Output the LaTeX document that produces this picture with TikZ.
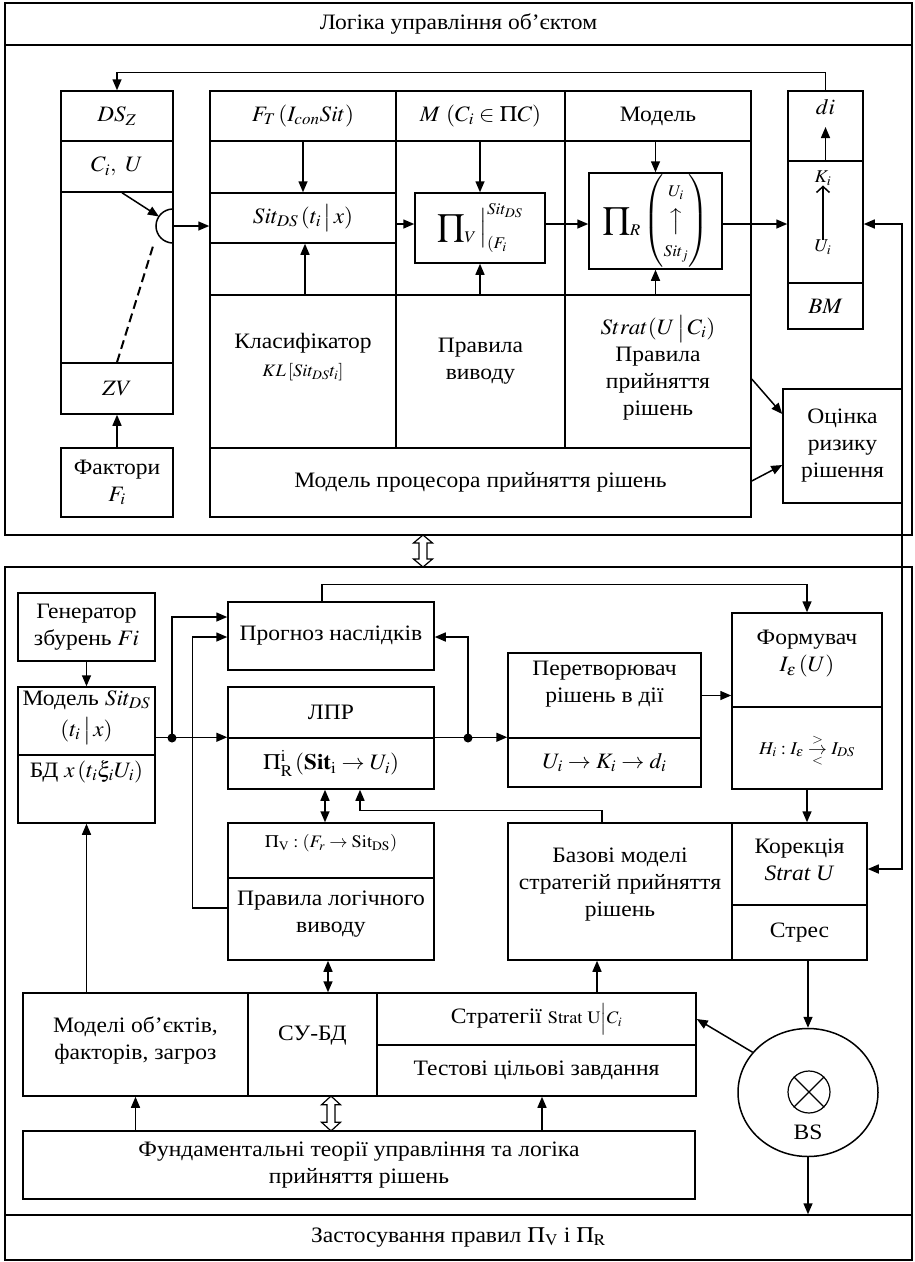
\documentclass[tikz,border=0pt]{standalone}
\usepackage{mathptmx}
\usepackage[no-math]{fontspec}
\setmainfont{Liberation Serif}[FakeStretch=1.07]
\usepackage{graphicx}
\usetikzlibrary{arrows.meta,calc,shapes.geometric}
% math set slightly wider to sit with the stretched text face
\newcommand\mx[1]{\scalebox{1.05}[1]{$#1$}}
\tikzset{
  cell/.style={draw,line width=1.5pt,rectangle,inner sep=0pt,align=center},
  txt/.style={inner sep=0pt,align=center},
  ln/.style={line width=1.5pt},
  arr/.style={ln,-{Triangle[length=11pt,width=9pt]}},
  darr/.style={ln,{Triangle[length=11pt,width=9pt]}-{Triangle[length=11pt,width=9pt]}},
  jdot/.style={circle,fill,inner sep=0pt,minimum size=9pt},
  smalltxt/.style={font=\fontsize{17.5}{20}\selectfont},
  hollowdbl/.pic={\draw[line width=1.2pt,fill=white] (0,-16)--(9.5,-8)--(4,-8)--(4,8)--(9.5,8)--(0,16)--(-9.5,8)--(-4,8)--(-4,-8)--(-9.5,-8)--cycle;}
}
\begin{document}
\begin{tikzpicture}[x=1pt,y=-1pt,font=\fontsize{22}{27}\selectfont]
\useasboundingbox (0,0) rectangle (914,1262);

% ---------- outer frames ----------
\node[cell,minimum width=907pt,minimum height=42pt] (ttl) at (458.5,24) {Логіка управління об’єктом};
\node[cell,minimum width=907pt,minimum height=490pt] (topfr) at (458.5,290) {};
\node[cell,minimum width=907pt,minimum height=648pt] (botfr) at (458.5,891) {};
\node[cell,minimum width=907pt,minimum height=45pt] (zast) at (458.5,1237.5) {Застосування правил \mx{\Pi_{\mathrm V}} і \mx{\Pi_{\mathrm R}}};

% ---------- upper part: situation column ----------
\node[cell,minimum width=112pt,minimum height=50pt] (dsz) at (117,116) {\mx{DS_Z}};
\node[cell,minimum width=112pt,minimum height=51pt] (ciu) at (117,166.5) {\mx{C_i,\ U}};
\node[cell,minimum width=112pt,minimum height=171pt] (dsm) at (117,277.5) {};
\node[cell,minimum width=112pt,minimum height=51pt] (zv) at (117,388.5) {\mx{ZV}};
\node[cell,minimum width=112pt,minimum height=69pt] (fac) at (117,482.5) {Фактори\\\mx{F_i}};

\coordinate (sc) at (173,226);
\coordinate (semitop) at (158.9,216.5);
\coordinate (semibot) at (154,243);
\draw[ln] (173,209) arc[start angle=270,end angle=90,radius=17];

% ---------- decision processor model ----------
\node[cell,minimum width=186pt,minimum height=50pt] (h1) at (303,116) {\mx{F_T\left(I_{con}Sit\right)}};
\node[cell,minimum width=169pt,minimum height=50pt] (h2) at (480.5,116) {\mx{M\ (C_i\in\Pi C)}};
\node[cell,minimum width=186pt,minimum height=50pt] (h3) at (658,116) {Модель};
\node[cell,minimum width=186pt,minimum height=154pt] (m1) at (303,218) {};
\node[cell,minimum width=169pt,minimum height=154pt] (m2) at (480.5,218) {};
\node[cell,minimum width=186pt,minimum height=154pt] (m3) at (658,218) {};
\node[cell,minimum width=186pt,minimum height=50pt] (sit) at (303,218) {\mx{Sit_{DS}\,(t_i\,\big|\,x)}};
\node[cell,minimum width=186pt,minimum height=153pt] (l1) at (303,371.5) {};
\node[cell,minimum width=169pt,minimum height=153pt] (l2) at (480.5,371.5) {};
\node[cell,minimum width=186pt,minimum height=153pt] (l3) at (658,371.5) {};
\node[cell,minimum width=541pt,minimum height=69pt] (proc) at (480.5,482.5) {Модель процесора прийняття рішень};

\node[txt] (kl1) at (303,343) {Класифікатор};
\node[txt,smalltxt] (kl2) at (303,372) {\mx{KL\left[Sit_{DS}t_i\right]}};
\node[txt] (pvt) at (480.5,361.5) {Правила\\виводу};
\node[txt] (prt) at (658,368) {\mx{Strat(U\,\big|\,C_i)}\\Правила\\прийняття\\рішень};

\node[cell,minimum width=130pt,minimum height=70pt] (piv) at (480,228) {\mx{\displaystyle\prod\nolimits_V\Big|^{Sit_{DS}}_{(F_i}}};
\node[cell,minimum width=133pt,minimum height=96pt] (pir) at (655.5,221) {\mx{\displaystyle\prod\nolimits_R\left(\begin{array}{@{}c@{}}\scriptstyle U_i\\[4pt]\big\uparrow\\[2pt]\scriptstyle Sit_j\end{array}\right)}};

% ---------- action column and risk ----------
\node[cell,minimum width=75pt,minimum height=70pt] (rdi) at (825.5,126) {};
\node[cell,minimum width=75pt,minimum height=122pt] (rku) at (825.5,222) {};
\node[cell,minimum width=75pt,minimum height=46pt] (rbm) at (825.5,306) {\mx{BM}};
\node[txt] (ditx) at (825.5,107) {\mx{di}};
\coordinate (ditip) at (825.5,127);
\node[txt,font=\fontsize{18}{20}\selectfont] (kk) at (823,178) {\mx{K_i}};
\node[txt,font=\fontsize{18}{20}\selectfont] (uu) at (823,247) {\mx{U_i}};
\node[cell,minimum width=119pt,minimum height=114pt] (ots) at (842.5,446) {Оцінка\\ризику\\рішення};

\coordinate (chain) at (0,224);
\coordinate (fbt) at (902,224);
\coordinate (fbb) at (902,869);

% upper connectors
\draw[arr] (rdi.north) -- ++(0,-18) -| (dsz.north);
\draw[arr] ($(ciu.south)+(5,0)$) -- (semitop);
\draw[line width=2pt,dash pattern=on 9pt off 5pt] (zv.north) -- (semibot);
\draw[arr] (fac.north) -- (zv.south);
\draw[arr] (sc) -- (sit.west |- sc);
\draw[arr] (h1.south) -- (sit.north);
\draw[arr] ($(l1.north)+(2,0)$) -- ($(sit.south)+(2,0)$);
\draw[arr] (sit.east |- chain) -- (piv.west |- chain);
\draw[arr] (piv.north |- h2.south) -- (piv.north);
\draw[arr] (piv.south |- l2.north) -- (piv.south);
\draw[arr] (piv.east |- chain) -- (pir.west |- chain);
\draw[arr] (pir.north |- h3.south) -- (pir.north);
\draw[arr] (pir.south |- l3.north) -- (pir.south);
\draw[arr] (pir.east |- chain) -- (rku.west |- chain);
\draw[arr] (rku.north) -- (ditip);
\draw[ln,-{Straight Barb[length=6pt,width=13pt]}] (uu.north) -- (kk.south);
\draw[arr] ($(l3.east)+(0,7.5)$) -- ($(ots.west)+(0,-32)$);
\draw[arr] ($(proc.east)+(0,-1.5)$) -- ($(ots.west)+(0,19)$);

\pic at (423,551) {hollowdbl};

% ---------- lower part ----------
\node[cell,minimum width=137pt,minimum height=68pt] (gen) at (86.5,627) {Генератор\\збурень \mx{Fi}};
\node[cell,minimum width=137pt,minimum height=68pt] (ms1) at (86.5,721) {};
\node[cell,minimum width=137pt,minimum height=68pt] (ms2) at (86.5,789) {};
\node[txt] (ms1a) at (86.5,700) {Модель \mx{Sit_{DS}}};
\node[txt] (ms1b) at (86.5,731) {\mx{(t_i\,\big|\,x)}};
\node[txt] (ms2t) at (86.5,772) {БД \mx{x\left(t_i\xi_iU_i\right)}};

\node[cell,minimum width=206pt,minimum height=68pt] (prog) at (331,636) {Прогноз наслідків};
\node[cell,minimum width=206pt,minimum height=51pt] (lpr1) at (331,712.5) {ЛПР};
\node[cell,minimum width=206pt,minimum height=51pt] (lpr2) at (331,763.5) {\mx{\Pi^{\mathrm i}_{\mathrm R}\left(\mathbf{Sit}_{\mathrm i}\rightarrow U_i\right)}};
\node[cell,minimum width=206pt,minimum height=55pt] (pv1) at (331,850.5) {};
\node[cell,minimum width=206pt,minimum height=82pt] (pv2) at (331,919) {};
\node[txt,smalltxt] (pv1t) at (331,843) {\mx{\Pi_{\mathrm V}:\left(F_r\rightarrow\mathrm{Sit}_{\mathrm{DS}}\right)}};
\node[txt] (pv2t) at (331,914) {Правила логічного\\виводу};

\node[cell,minimum width=193pt,minimum height=85pt] (per1) at (604.5,695.5) {};
\node[cell,minimum width=193pt,minimum height=49pt] (per2) at (604.5,762.5) {\mx{U_i\rightarrow K_i\rightarrow d_i}};
\node[txt] (per1t) at (604.5,684) {Перетворювач\\рішень в дії};

\node[cell,minimum width=150pt,minimum height=94pt] (fo1) at (807,660) {};
\node[cell,minimum width=150pt,minimum height=82pt] (fo2) at (807,748) {};
\node[txt] (fo1t) at (807,654) {Формувач\\\mx{I_\varepsilon\left(U\right)}};
\node[txt,font=\fontsize{18}{20}\selectfont] (fo2t) at (807,751) {\mx{H_i:I_\varepsilon\mathrel{\mathop{\rightarrow}\limits^{>}_{<}}I_{DS}}};

\node[cell,minimum width=224pt,minimum height=137pt] (baz) at (620,891.5) {};
\node[txt] (bazt) at (620,885) {Базові моделі\\стратегій прийняття\\рішень};
\node[cell,minimum width=135pt,minimum height=82pt] (kor) at (799.5,864) {};
\node[txt] (kort) at (799.5,860) {Корекція\\\textit{Strat U}};
\node[cell,minimum width=135pt,minimum height=55pt] (stres) at (799.5,932.5) {Стрес};

\node[cell,minimum width=225pt,minimum height=103pt] (mod) at (135.5,1044.5) {};
\node[txt] (modt) at (135.5,1040) {Моделі об’єктів,\\факторів, загроз};
\node[cell,minimum width=129pt,minimum height=103pt] (subd) at (312.5,1044.5) {};
\node[txt] (subdt) at (312.5,1036) {СУ-БД};
\node[cell,minimum width=319pt,minimum height=52pt] (st1) at (536.5,1019) {Стратегії {\fontsize{17.5}{20}\selectfont\mx{\mathrm{Strat\ U}\Big|C_i}}};
\node[cell,minimum width=319pt,minimum height=51pt] (st2) at (536.5,1070.5) {Тестові цільові завдання};

\node[draw,ln,ellipse,inner sep=0pt,minimum width=140pt,minimum height=128pt] (bs) at (808,1092.5) {};
\node[draw,circle,line width=1.2pt,inner sep=0pt,minimum size=42pt] (ot) at (809,1092) {};
\draw[line width=1.2pt] (ot.45) -- (ot.225) (ot.135) -- (ot.315);
\node[txt] (bst) at (808,1132) {BS};

\node[cell,minimum width=672pt,minimum height=68pt] (fund) at (359,1165) {Фундаментальні теорії управління та логіка\\прийняття рішень};

% lower connectors
\draw[arr] (gen.south) -- (ms1.north);
\draw[arr] (ms2.south |- mod.north) -- (ms2.south);
\node[jdot] (dd1) at (172,738) {};
\node[jdot] (dd2) at (468,738) {};
\draw[arr] (ms1.east |- lpr2.north west) -- (lpr2.north west);
\draw[arr] (dd1.center) |- ($(prog.west)+(0,-19)$);
\draw[arr] ($(pv2.west)+(0,-11)$) -| ($(prog.west)+(-35,1)$) -- ($(prog.west)+(0,1)$);
\draw[arr] ($(prog.north)+(-9,0)$) -- ++(0,-17) -| (fo1.north);
\draw[arr] (lpr2.north east) -- (per2.north west);
\draw[arr] (dd2.center) |- ($(prog.east)+(0,1)$);
\draw[arr] (per1.east) -- (fo1.west |- per1.east);
\draw[arr] (fo2.south) -- (fo2.south |- kor.north);
\draw[arr] ($(baz.north)+(-18,0)$) -- ++(0,-12) -| ($(lpr2.south)+(29,0)$);
\draw[darr] ($(lpr2.south)+(-6,0)$) -- ($(pv1.north)+(-6,0)$);
\draw[darr] ($(pv2.south)+(-3,0)$) -- ($(subd.north)+(15.5,0)$);
\draw[arr] ($(st1.north)+(60.5,0)$) -- ($(baz.south)+(-23,0)$);
\draw[arr] (stres.south -| bs.north) -- (bs.north);
\draw[arr] (bs.144) -- (st1.east);
\draw[arr] (bs.south) -- (bs.south |- zast.north);
\draw[arr] (fund.north -| mod.south) -- (mod.south);
\draw[arr] ($(fund.north -| st2.south)+(5.5,0)$) -- ($(st2.south)+(5.5,0)$);
\pic[yscale=1.09] at (331,1113.5) {hollowdbl};

% feedback from risk loop into action column and correction block
\draw[darr] (rku.east |- fbt) -- (fbt) -- (fbb) -- ($(kor.east)+(0,5)$);
\end{tikzpicture}
\end{document}
